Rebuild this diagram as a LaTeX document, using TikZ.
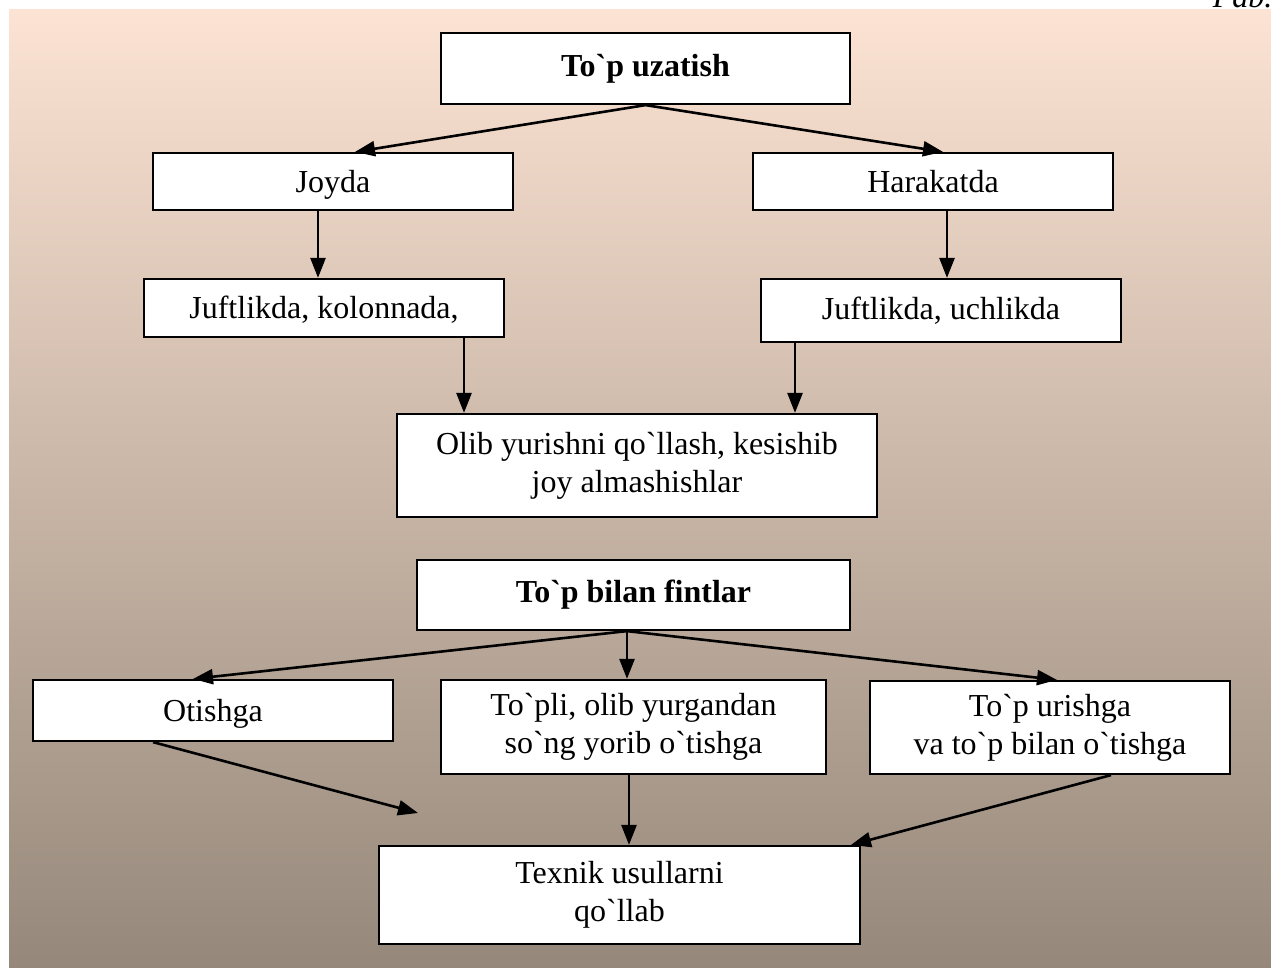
\documentclass[tikz,border=0pt]{standalone}
\usepackage{fontspec}
\setmainfont{Liberation Serif}
\usetikzlibrary{arrows.meta}
\definecolor{bgtop}{RGB}{252,227,211}
\definecolor{bgmid}{RGB}{214,193,179}
\definecolor{bgbot}{RGB}{149,136,122}
\newcommand{\gv}{\textasciigrave}
\tikzset{
  box/.style={draw=black, line width=2.2pt, fill=white, inner sep=0pt,
    font=\fontsize{32}{38}\selectfont, align=center},
  oneline/.style={text depth=1pt},
  conn/.style={line width=2.6pt, -{Triangle[length=20pt,width=15pt]}},
}
\newcommand{\boxat}[6]{%
  \node[box, minimum width=#4-#2, minimum height=#5-#3, #6] (#1) at ({(#2+#4)/2},{(#3+#5)/2})}
\begin{document}
\begin{tikzpicture}[x=1pt,y=-1pt]
\useasboundingbox (0,0) rectangle (1271,967);
\shade[top color=bgtop, middle color=bgmid, bottom color=bgbot] (9,9) rectangle (1271,967);
\node[anchor=base east, font=\fontsize{32}{36}\selectfont\itshape] (corner) at (1276,7) {Pab.};

\boxat{uzat}{441}{33}{850}{104}{font=\fontsize{32}{38}\selectfont\bfseries} {To\gv p uzatish};
\boxat{joyda}{153}{153}{513}{210}{oneline} {Joyda};
\boxat{harak}{753}{153}{1113}{210}{oneline} {Harakatda};
\boxat{juftk}{144}{279}{504}{337}{oneline} {Juftlikda, kolonnada,};
\boxat{juftu}{761}{279}{1121}{342}{} {Juftlikda, uchlikda};
\boxat{olib}{397}{414}{877}{517}{} {Olib yurishni qo\gv llash, kesishib\\joy almashishlar};

\boxat{fint}{417}{560}{850}{630}{font=\fontsize{32}{38}\selectfont\bfseries} {To\gv p bilan fintlar};
\boxat{otish}{33}{680}{393}{741}{oneline} {Otishga};
\boxat{topli}{441}{680}{826}{774}{} {To\gv pli, olib yurgandan\\so\gv ng yorib o\gv tishga};
\boxat{urish}{870}{681}{1230}{774}{} {To\gv p urishga\\va to\gv p bilan o\gv tishga};
\boxat{texnik}{379}{846}{860}{944}{} {Texnik usullarni\\qo\gv llab};

\coordinate (free) at (418,813);

% upper tree
\draw[conn] (uzat.south) -- (joyda.north -| 355,0);
\draw[conn] (uzat.south) -- (harak.north -| 943,0);
\draw[conn] (joyda.south -| 318,0) -- (juftk.north -| 318,0);
\draw[conn] (harak.south -| 947,0) -- (juftu.north -| 947,0);
\draw[conn] (juftk.south -| 464,0) -- (olib.north -| 464,0);
\draw[conn] (juftu.south -| 795,0) -- (olib.north -| 795,0);

% lower tree
\draw[conn] (fint.south -| 627,0) -- (otish.north -| 193,0);
\draw[conn] (fint.south -| 627,0) -- (topli.north -| 627,0);
\draw[conn] (fint.south -| 627,0) -- (urish.north -| 1057,0);
\draw[conn] (otish.south -| 153,0) -- (free);
\draw[conn] (topli.south -| 629,0) -- (texnik.north -| 629,0);
\draw[conn] (urish.south -| 1111,0) -- (texnik.north -| 851,0);
\end{tikzpicture}
\end{document}
